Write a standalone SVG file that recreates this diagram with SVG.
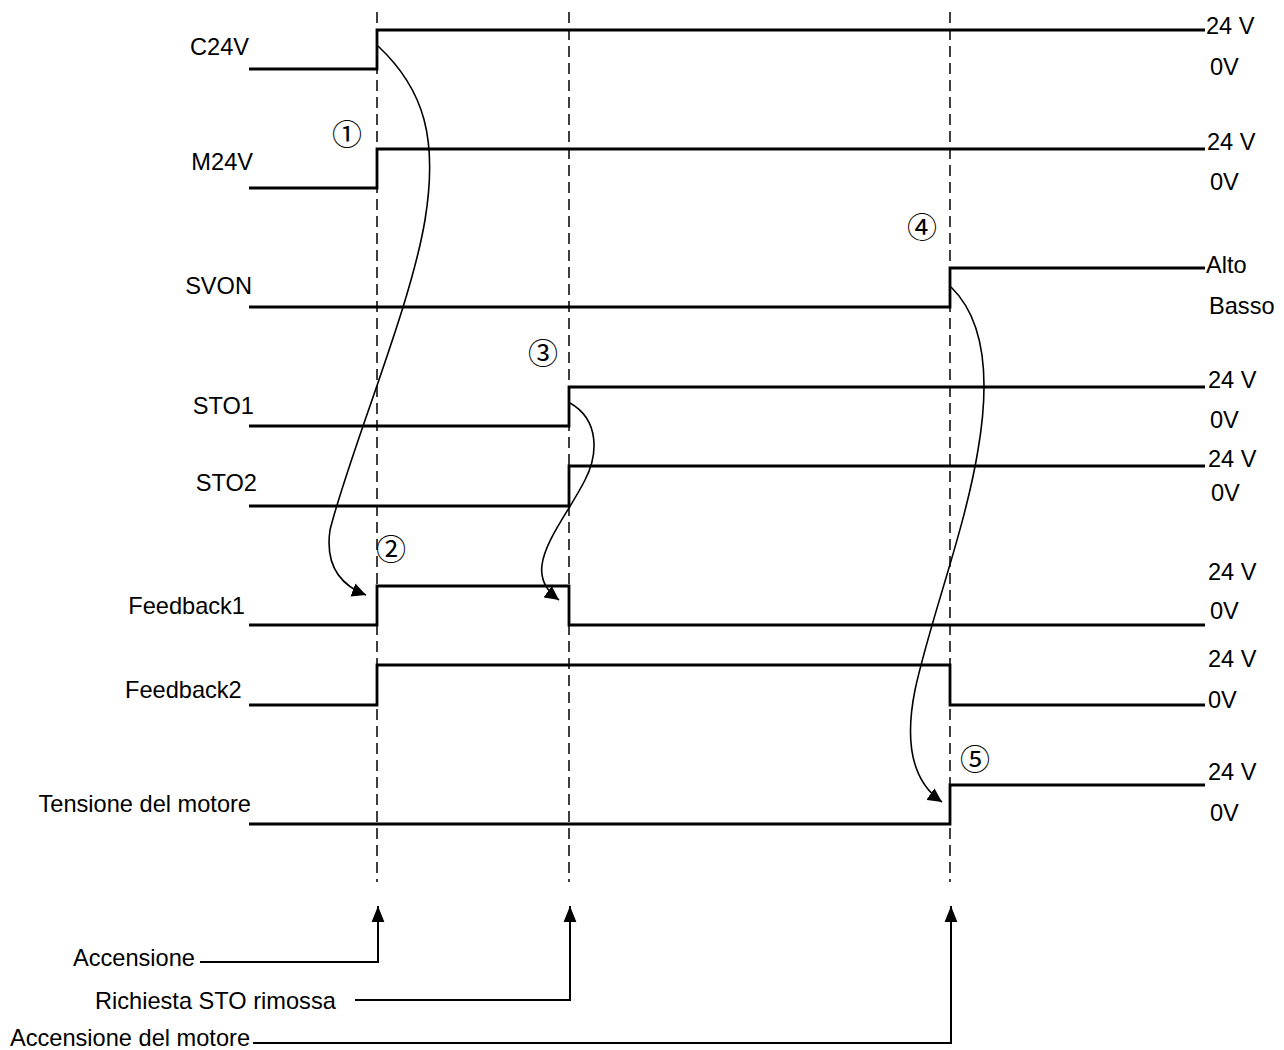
<svg xmlns="http://www.w3.org/2000/svg" width="1284" height="1050" viewBox="0 0 1284 1050">
<style>
text{font-family:"Liberation Sans",Arial,sans-serif;font-size:23.6px;fill:#000}
.num{font-family:"Noto Sans CJK SC","DejaVu Sans",sans-serif;font-size:30px}
.sig{fill:none;stroke:#000;stroke-width:2.8;stroke-linejoin:miter}
.dash{fill:none;stroke:#000;stroke-width:1.5;stroke-dasharray:11,6}
.cur{fill:none;stroke:#000;stroke-width:1.6}
.ev{fill:none;stroke:#000;stroke-width:2}
</style>
<defs>
<marker id="ah" viewBox="0 0 10 10" refX="10" refY="5" markerWidth="14" markerHeight="14" markerUnits="userSpaceOnUse" orient="auto"><path d="M0,0 L10,5 L0,10 z" fill="#000"/></marker>
<marker id="au" viewBox="0 0 10 10" refX="10" refY="5" markerWidth="16" markerHeight="16" markerUnits="userSpaceOnUse" orient="auto"><path d="M0,1 L10,5 L0,9 z" fill="#000"/></marker>
</defs>
<g id="guides">
<line class="dash" x1="377" y1="12" x2="377" y2="882"/>
<line class="dash" x1="569" y1="12" x2="569" y2="882"/>
<line class="dash" x1="950" y1="12" x2="950" y2="882"/>
</g>
<g id="C24V"><text x="249" y="55" text-anchor="end">C24V</text><polyline class="sig" points="249,69 377,69 377,30 1205,30"/><text x="1206" y="34">24 V</text><text x="1210" y="75">0V</text></g>
<g id="M24V"><text x="253" y="170" text-anchor="end">M24V</text><polyline class="sig" points="249,188 377,188 377,149 1205,149"/><text x="1207" y="150">24 V</text><text x="1210" y="190">0V</text></g>
<g id="SVON"><text x="252" y="294" text-anchor="end">SVON</text><polyline class="sig" points="249,307 950,307 950,268 1205,268"/><text x="1206" y="273">Alto</text><text x="1209" y="314">Basso</text></g>
<g id="STO1"><text x="254" y="414" text-anchor="end">STO1</text><polyline class="sig" points="249,426 569,426 569,387 1205,387"/><text x="1208" y="388">24 V</text><text x="1210" y="428">0V</text></g>
<g id="STO2"><text x="257" y="491" text-anchor="end">STO2</text><polyline class="sig" points="249,506 569,506 569,466 1205,466"/><text x="1208" y="467">24 V</text><text x="1211" y="501">0V</text></g>
<g id="Feedback1"><text x="245" y="614" text-anchor="end">Feedback1</text><polyline class="sig" points="249,625 377,625 377,586 569,586 569,625 1205,625"/><text x="1208" y="580">24 V</text><text x="1210" y="619">0V</text></g>
<g id="Feedback2"><text x="125" y="698">Feedback2</text><polyline class="sig" points="249,705 377,705 377,665 950,665 950,705 1205,705"/><text x="1208" y="667">24 V</text><text x="1208" y="708">0V</text></g>
<g id="Motore"><text x="251" y="812" text-anchor="end">Tensione del motore</text><polyline class="sig" points="249,824 950,824 950,785 1205,785"/><text x="1208" y="780">24 V</text><text x="1210" y="821">0V</text></g>
<g id="steps">
<text class="num" x="347" y="145" text-anchor="middle">①</text>
<text class="num" x="391" y="560" text-anchor="middle">②</text>
<text class="num" x="543" y="364" text-anchor="middle">③</text>
<text class="num" x="922" y="238" text-anchor="middle">④</text>
<text class="num" x="975" y="770" text-anchor="middle">⑤</text>
</g>
<g id="connectors">
<path class="cur" marker-end="url(#ah)" d="M378,46 C425,90 438,140 425,220 C410,310 350,450 330,530 C325,565 340,585 366,595"/>
<path class="cur" marker-end="url(#ah)" d="M570,403 C600,420 598,455 585,480 C570,510 545,540 542,565 C540,580 548,592 559,600"/>
<path class="cur" marker-end="url(#ah)" d="M951,287 C985,320 990,380 978,450 C965,530 930,620 915,690 C905,740 910,780 942,802"/>
<polyline class="ev" marker-end="url(#au)" points="200,962 378,962 378,906"/>
<polyline class="ev" marker-end="url(#au)" points="355,1000 570,1000 570,906"/>
<polyline class="ev" marker-end="url(#au)" points="253,1043 951,1043 951,906"/>
</g>
<g id="events">
<text x="73" y="966">Accensione</text>
<text x="95" y="1009">Richiesta STO rimossa</text>
<text x="10" y="1046">Accensione del motore</text>
</g>
</svg>
